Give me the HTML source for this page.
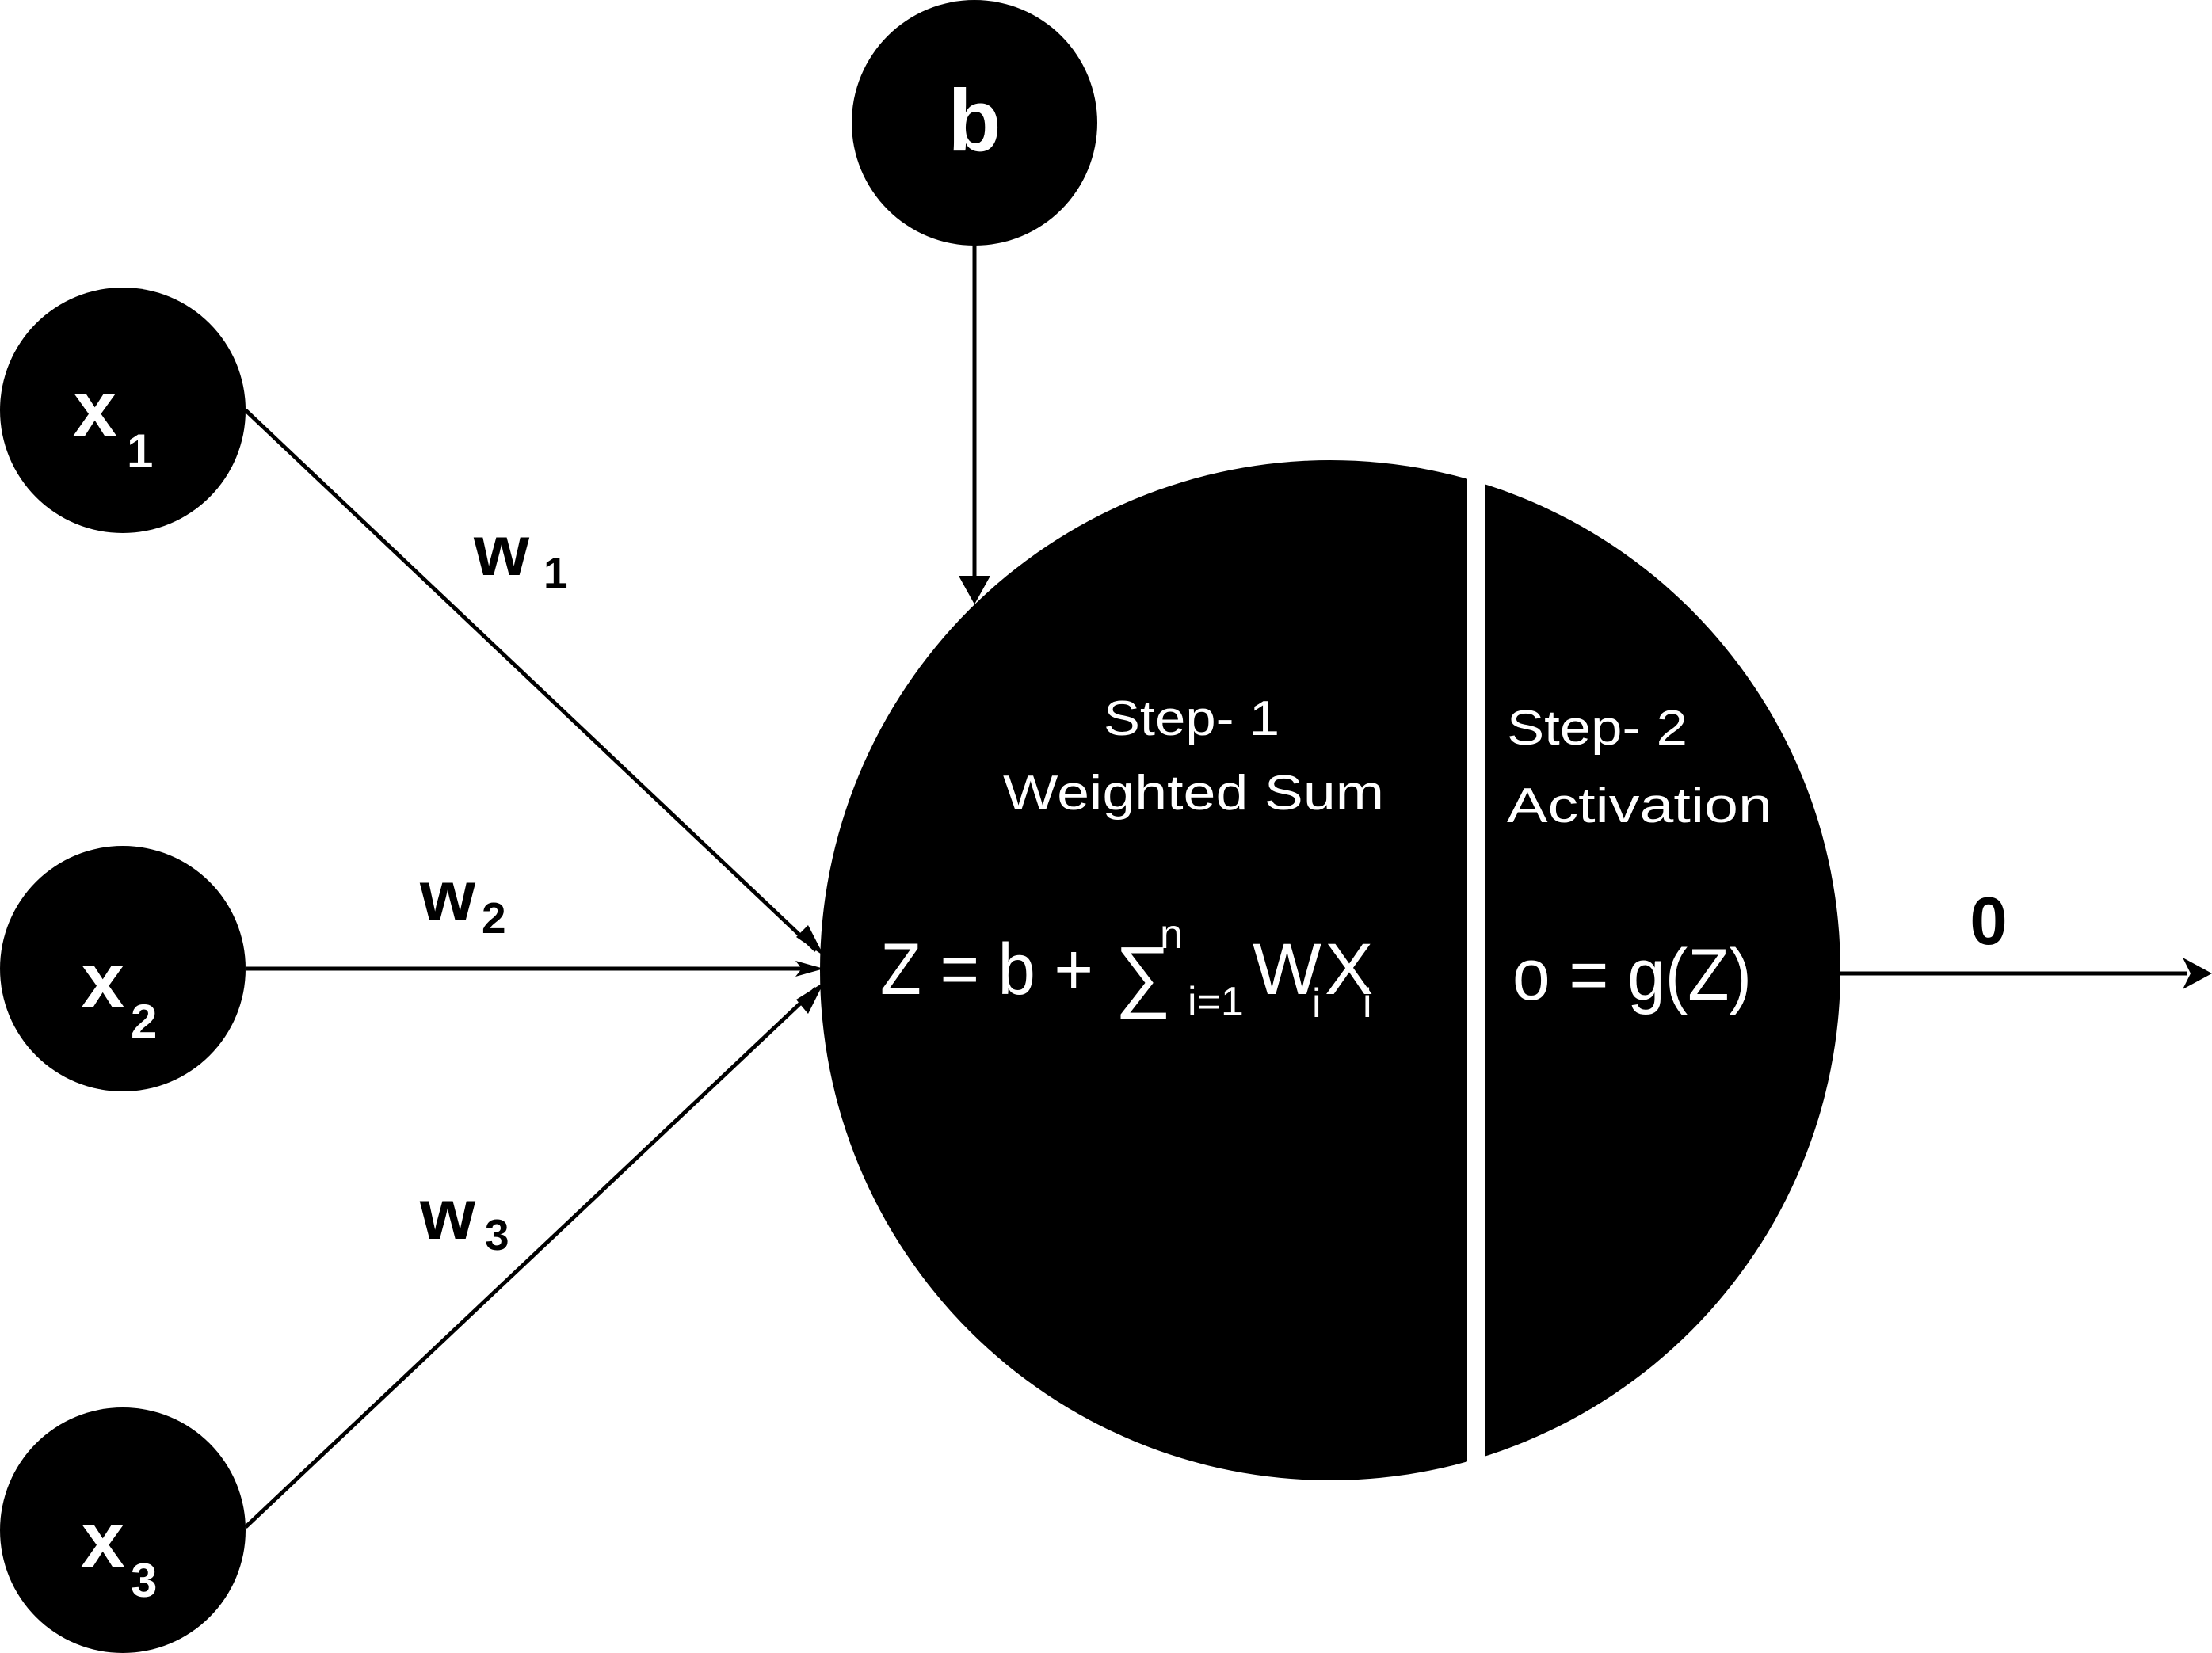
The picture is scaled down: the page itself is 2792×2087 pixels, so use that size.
<!DOCTYPE html>
<html><head><meta charset="utf-8"><style>
html,body{margin:0;padding:0;background:#fff}
svg{display:block}
text{font-family:"Liberation Sans",sans-serif}
</style></head><body>
<svg width="2792" height="2087" viewBox="0 0 2792 2087" xmlns="http://www.w3.org/2000/svg">
<circle cx="155" cy="518" r="155" fill="#000"/>
<circle cx="155" cy="1223" r="155" fill="#000"/>
<circle cx="155" cy="1932" r="155" fill="#000"/>
<circle cx="1230" cy="155" r="155" fill="#000"/>
<circle cx="1679" cy="1225" r="644" fill="#000"/>
<rect x="1852" y="560" width="22" height="1340" fill="#fff"/>
<g stroke="#000" stroke-width="5" fill="none">
<line x1="310" y1="518" x2="1030" y2="1200"/>
<line x1="310" y1="1223" x2="1024" y2="1223"/>
<line x1="310" y1="1928" x2="1030" y2="1248"/>
<line x1="1230" y1="308" x2="1230" y2="740"/>
<line x1="2320" y1="1229" x2="2760" y2="1229"/>
</g>
<g fill="#000">
<polygon points="1210,727 1250,727 1230,763"/>
<polygon points="2755,1209 2792,1229 2755,1249 2765,1229"/>
<polygon points="1004,1213 1040,1223 1004,1233 1012,1223"/>
<polygon points="1005,1183 1040,1207 1020,1168"/>
<polygon points="1005,1262 1040,1240 1020,1280"/>
</g>
<g fill="#fff" font-weight="bold">
<text x="1230" y="190" font-size="110" text-anchor="middle">b</text>
<text x="92" y="550" font-size="100">x</text><text x="160" y="590" font-size="60">1</text>
<text x="102" y="1272" font-size="100">x</text><text x="165" y="1310" font-size="60">2</text>
<text x="102" y="1978" font-size="100">x</text><text x="165" y="2016" font-size="60">3</text>
</g>
<g fill="#000" font-weight="bold">
<text x="598" y="726" font-size="90">w</text><text x="686" y="742" font-size="55">1</text>
<text x="530" y="1162" font-size="90">w</text><text x="608" y="1178" font-size="55">2</text>
<text x="530" y="1564" font-size="90">w</text><text x="612" y="1578" font-size="55">3</text>
<text x="2510" y="1192" font-size="85" text-anchor="middle">0</text>
</g>
<g fill="#fff">
<text x="1393" y="928" font-size="62" textLength="222" lengthAdjust="spacingAndGlyphs">Step- 1</text>
<text x="1266" y="1022" font-size="62" textLength="481" lengthAdjust="spacingAndGlyphs">Weighted Sum</text>
<text x="1902" y="940" font-size="62" textLength="228" lengthAdjust="spacingAndGlyphs">Step- 2</text>
<text x="1902" y="1038" font-size="62" textLength="335" lengthAdjust="spacingAndGlyphs">Activation</text>
<text x="1111" y="1255" font-size="92" textLength="269" lengthAdjust="spacingAndGlyphs">Z = b +</text>
<text x="1407" y="1265" font-size="100">∑</text>
<text x="1464" y="1197" font-size="52">n</text>
<text x="1499" y="1282" font-size="52">i=1</text>
<text x="1581" y="1255" font-size="92">W</text>
<text x="1656" y="1284" font-size="52">i</text>
<text x="1672" y="1255" font-size="92">X</text>
<text x="1720" y="1284" font-size="52">i</text>
<text x="1909" y="1262" font-size="92" textLength="302" lengthAdjust="spacingAndGlyphs">o = g(Z)</text>
</g>
</svg>
</body></html>
